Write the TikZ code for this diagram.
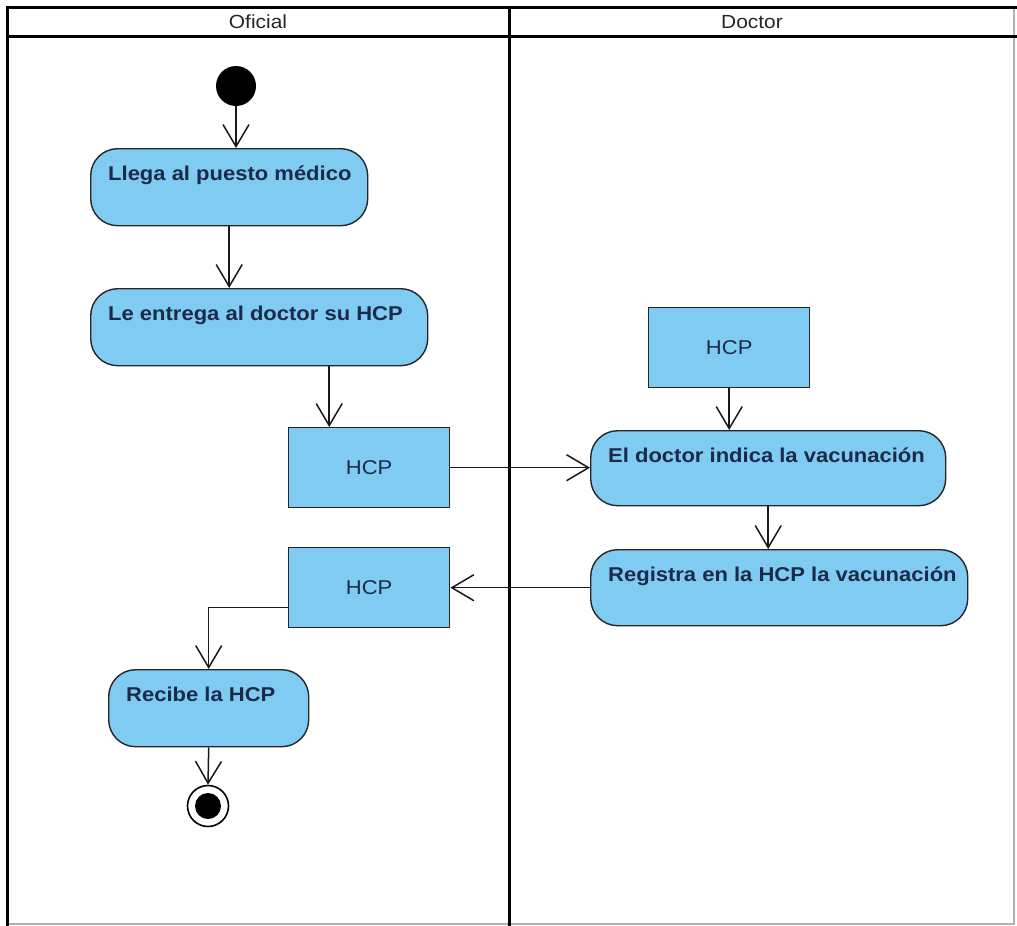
\documentclass[tikz,border=0pt]{standalone}
\usepackage{fontspec}
\setmainfont{Liberation Sans}[FakeStretch=1.1]
\usetikzlibrary{arrows.meta}
\definecolor{actblue}{HTML}{7FCBF2}
\definecolor{navy}{HTML}{1B2A48}
\definecolor{framegrey}{HTML}{B0B0B0}
\begin{document}
\begin{tikzpicture}[x=1pt,y=-1pt,
  act/.style={draw=black!85, fill=actblue, rounded corners=27pt, line width=1.4pt, anchor=north west, inner sep=0pt},
  lbl/.style={anchor=north west, inner sep=0pt, xshift=18pt, yshift=-18pt, font=\bfseries\fontsize{20}{23}\selectfont, text=navy},
  obj/.style={draw=black!85, fill=actblue, line width=1.4pt, anchor=north west, minimum width=161pt, minimum height=80pt, font=\fontsize{20}{23}\selectfont, text=navy},
  flow/.style={draw=black!90, line width=1.5pt, -{Straight Barb[length=22pt,width=26pt,line width=1.5pt]}},
  lane/.style={line width=3pt, draw=black},
  head/.style={font=\fontsize{19}{22}\selectfont, text=black!85}]
\useasboundingbox (0,0) rectangle (1017,926);
\fill[white] (0,0) rectangle (1017,926);
% frame
\draw[framegrey, line width=1.2pt] (7,924) -- (1014,924) -- (1014,7);
\draw[lane] (1017,7) -- (7,7) -- (7,926);
\draw[lane] (7,36) -- (1017,36);
\draw[lane] (509,7) -- (509,926);
\node[head] (h1) at (258,22) {Oficial};
\node[head] (h2) at (752,22) {Doctor};
% nodes
\node[circle, fill=black, minimum size=40pt, inner sep=0pt] (start) at (236,86) {};
\node[act, minimum width=277pt, minimum height=77pt, label={[lbl]north west:Llega al puesto médico}] (a1) at (90,148) {};
\node[act, minimum width=337pt, minimum height=77pt, label={[lbl]north west:Le entrega al doctor su HCP}] (a2) at (90,288) {};
\node[obj] (o1) at (288,427) {HCP};
\node[obj] (o3) at (648,307) {HCP};
\node[act, minimum width=355pt, minimum height=75pt, label={[lbl]north west:El doctor indica la vacunación}] (a3) at (590,430) {};
\node[act, minimum width=377pt, minimum height=76pt, label={[lbl]north west:Registra en la HCP la vacunación}] (a4) at (590,549) {};
\node[obj] (o2) at (288,547) {HCP};
\node[act, minimum width=200pt, minimum height=77pt, label={[lbl]north west:Recibe la HCP}] (a5) at (108,669) {};
\node[circle, draw=black, line width=1.6pt, fill=white, minimum size=41pt, inner sep=0pt] (fin) at (208,806) {};
\node[circle, fill=black, minimum size=26pt, inner sep=0pt] (finin) at (fin.center) {};
% connectors
\draw[flow] (start.south) -- (start.south |- a1.north);
\draw[flow] (a1.south) -- (a1.south |- a2.north);
\draw[flow] ([xshift=-40pt]o1.north |- a2.south) -- ([xshift=-40pt]o1.north);
\draw[flow] (o1.east) -- (o1.east -| a3.west);
\draw[flow] (o3.south) -- (o3.south |- a3.north);
\draw[flow] (a3.south) -- (a3.south |- a4.north);
\draw[flow] (a4.west) -- (a4.west -| o2.east);
\draw[flow] ([yshift=-20pt]o2.west) -| (a5.north);
\draw[flow] (a5.south) -- (fin.north);
\end{tikzpicture}
\end{document}
